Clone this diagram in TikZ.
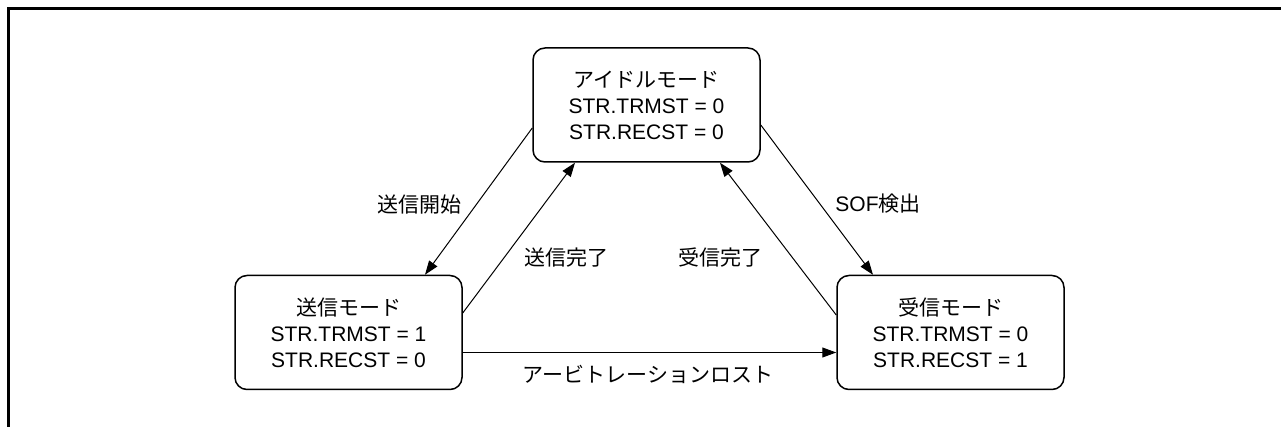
\documentclass[tikz,border=0pt]{standalone}
\usepackage{fontspec}
\setmainfont{Liberation Sans}
\newfontfamily\cjk{Noto Sans CJK JP}
\usetikzlibrary{arrows.meta,calc}
\begin{document}
\begin{tikzpicture}[x=0.5pt,y=-0.5pt,
  state/.style={draw,line width=0.75pt,rounded corners=6pt,minimum width=113.5pt,minimum height=57pt,
    align=center,font=\fontsize{10.5pt}{13pt}\selectfont,inner sep=0pt},
  conn/.style={line width=0.5pt,-{Triangle[length=7pt,width=5pt]}},
  lbl/.style={font=\fontsize{10.5pt}{13pt}\selectfont,inner sep=0pt},
  frame/.style={line width=1.5pt}]
\useasboundingbox (0,0) rectangle (1281,427);
\coordinate (fa) at (8.5,427);
\coordinate (fb) at (8.5,8.5);
\coordinate (fc) at (1281,8.5);
\draw[frame] (fa) -- (fb) -- (fc);
\node[state] (idle) at (646.5,105) {{\cjk アイドルモード}\\STR.TRMST = 0\\STR.RECST = 0};
\node[state] (tx) at (348.5,332.5) {{\cjk 送信モード}\\STR.TRMST = 1\\STR.RECST = 0};
\node[state] (rx) at (950.5,332.5) {{\cjk 受信モード}\\STR.TRMST = 0\\STR.RECST = 1};
\draw[conn] ($(idle.west)+(0,23)$) -- ($(tx.north)+(76.5,0)$);
\draw[conn] ($(tx.east)+(0,-19.5)$) -- ($(idle.south)+(-71.5,0)$);
\draw[conn] ($(idle.east)+(0,20)$) -- ($(rx.north)+(-77.5,0)$);
\draw[conn] ($(rx.west)+(0,-17.5)$) -- ($(idle.south)+(73.5,0)$);
\draw[conn] ($(tx.east)+(0,20)$) -- ($(rx.west)+(0,20)$);
\node[lbl] (l1) at (419,205) {\cjk 送信開始};
\node[lbl] (l2) at (566,258) {\cjk 送信完了};
\node[lbl] (l3) at (720,258) {\cjk 受信完了};
\node[lbl] (l4) at (878,204) {SOF{\cjk 検出}};
\node[lbl] (l5) at (648,374) {\cjk アービトレーションロスト};
\end{tikzpicture}
\end{document}
